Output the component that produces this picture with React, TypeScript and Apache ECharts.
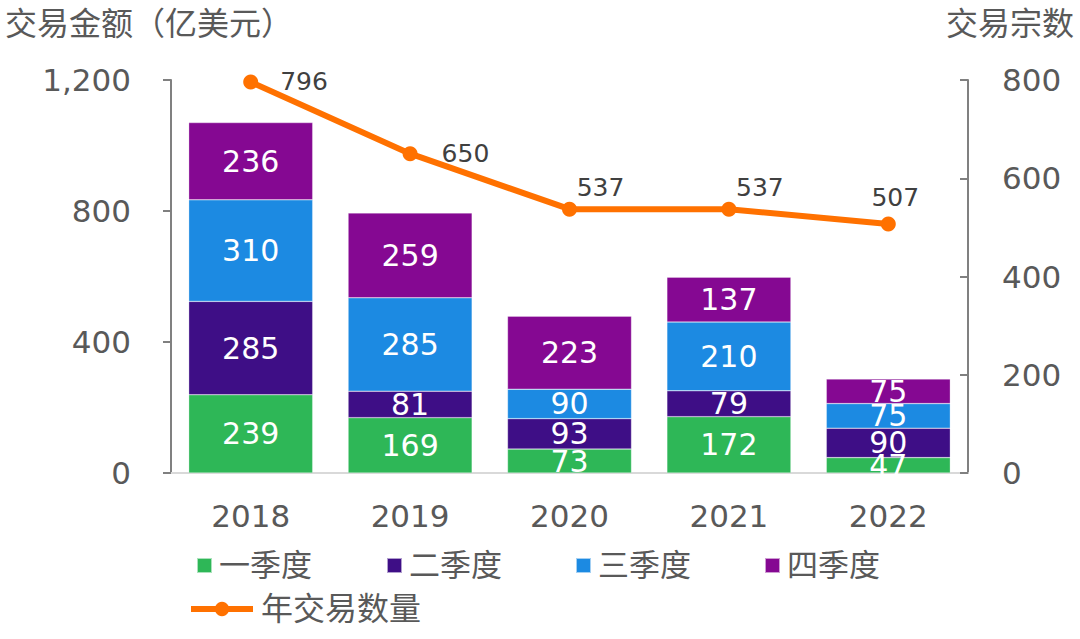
import React, { useEffect, useRef } from "react";
import * as echarts from "echarts";

const years = ["2018", "2019", "2020", "2021", "2022"];
const q1 = [239, 169, 73, 172, 47];
const q2 = [285, 81, 93, 79, 90];
const q3 = [310, 285, 90, 210, 75];
const q4 = [236, 259, 223, 137, 75];
const dealCount = [796, 650, 537, 537, 507];
const quarterNames = ["一季度", "二季度", "三季度", "四季度"];
const leftTicks = { min: 0, max: 1200, interval: 400 };
const rightTicks = { min: 0, max: 800, interval: 200 };

const FONT = "'DejaVu Sans', 'Noto Sans CJK SC', sans-serif";
const GREY = "#595959";

export default function App() {
  const ref = useRef<HTMLDivElement>(null);
  useEffect(() => {
    if (!ref.current) return;
    const chart = echarts.init(ref.current, null, { renderer: "svg" });
    const barLabel = {
      show: true,
      position: "inside",
      color: "#ffffff",
      fontSize: 30,
      fontFamily: FONT,
    };
    const lineLabelCfg = [
      { position: "right", offset: [12, 0] },
      { position: "right", offset: [14, 0] },
      { position: "top", offset: [31, 8] },
      { position: "top", offset: [31, 8] },
      { position: "top", offset: [7, 4] },
    ];
    const bar = (name: string, data: number[], color: string) => ({
      name,
      type: "bar",
      stack: "amt",
      yAxisIndex: 0,
      barWidth: 124,
      data,
      itemStyle: { color, borderColor: "rgba(255,255,255,0.6)", borderWidth: 0.5 },
      label: barLabel,
    });
    const legendLefts = [196, 386, 575, 764];
    const quarterLegends = quarterNames.map((n, i) => ({
      data: [n],
      left: legendLefts[i],
      top: 550,
      padding: 0,
      itemWidth: 15,
      itemHeight: 15,
      icon: "rect",
      textStyle: { fontSize: 31, color: GREY, fontFamily: FONT, padding: [0, 0, 0, 2] },
    }));
    chart.setOption({
      animation: false,
      textStyle: { fontFamily: FONT },
      grid: { left: 171, right: 112, top: 80, bottom: 166, containLabel: false },
      legend: [
        ...quarterLegends,
        {
          data: ["年交易数量"],
          left: 188,
          top: 593,
          padding: 0,
          itemWidth: 62,
          itemHeight: 18,
          lineStyle: { width: 6 },
          textStyle: { fontSize: 32, color: GREY, fontFamily: FONT, padding: [0, 0, 0, 3] },
        },
      ],
      graphic: [
        {
          type: "text",
          left: 5,
          top: 8,
          style: { text: "交易金额（亿美元）", fontSize: 32, fill: GREY, fontFamily: FONT },
        },
        {
          type: "text",
          right: 6,
          top: 8,
          style: { text: "交易宗数", fontSize: 32, fill: GREY, fontFamily: FONT },
        },
      ],
      xAxis: {
        type: "category",
        data: years,
        axisLine: { lineStyle: { color: "#d9d9d9", width: 2 } },
        axisTick: { show: false },
        axisLabel: { fontSize: 31, color: GREY, margin: 27, fontFamily: FONT },
      },
      yAxis: [
        {
          type: "value",
          ...leftTicks,
          position: "left",
          axisLine: { show: true, lineStyle: { color: "#808080", width: 2 } },
          axisTick: { show: true, inside: false, length: 8, lineStyle: { color: "#808080", width: 2 } },
          splitLine: { show: false },
          axisLabel: {
            fontSize: 31,
            color: GREY,
            margin: 40,
            fontFamily: FONT,
            formatter: (v: number) => v.toLocaleString("en-US"),
          },
        },
        {
          type: "value",
          ...rightTicks,
          position: "right",
          axisLine: { show: true, lineStyle: { color: "#808080", width: 2 } },
          axisTick: { show: true, inside: true, length: 8, lineStyle: { color: "#808080", width: 2 } },
          splitLine: { show: false },
          axisLabel: { fontSize: 31, color: GREY, margin: 34, fontFamily: FONT },
        },
      ],
      series: [
        bar(quarterNames[0], q1, "#2EB757"),
        bar(quarterNames[1], q2, "#3E0E86"),
        bar(quarterNames[2], q3, "#1C8AE2"),
        bar(quarterNames[3], q4, "#850892"),
        {
          name: "年交易数量",
          type: "line",
          yAxisIndex: 1,
          symbol: "circle",
          symbolSize: 15,
          lineStyle: { color: "#FF7100", width: 6 },
          itemStyle: { color: "#FF7100" },
          data: dealCount.map((v, i) => ({
            value: v,
            label: {
              show: true,
              position: lineLabelCfg[i].position,
              offset: lineLabelCfg[i].offset,
              distance: 10,
              fontSize: 25,
              color: "#404040",
              fontFamily: FONT,
            },
          })),
        },
      ],
    });
    return () => chart.dispose();
  }, []);
  return (
    <div
      ref={ref}
      style={{ position: "fixed", left: 0, top: 0, width: 1080, height: 639, background: "#fff" }}
    />
  );
}
